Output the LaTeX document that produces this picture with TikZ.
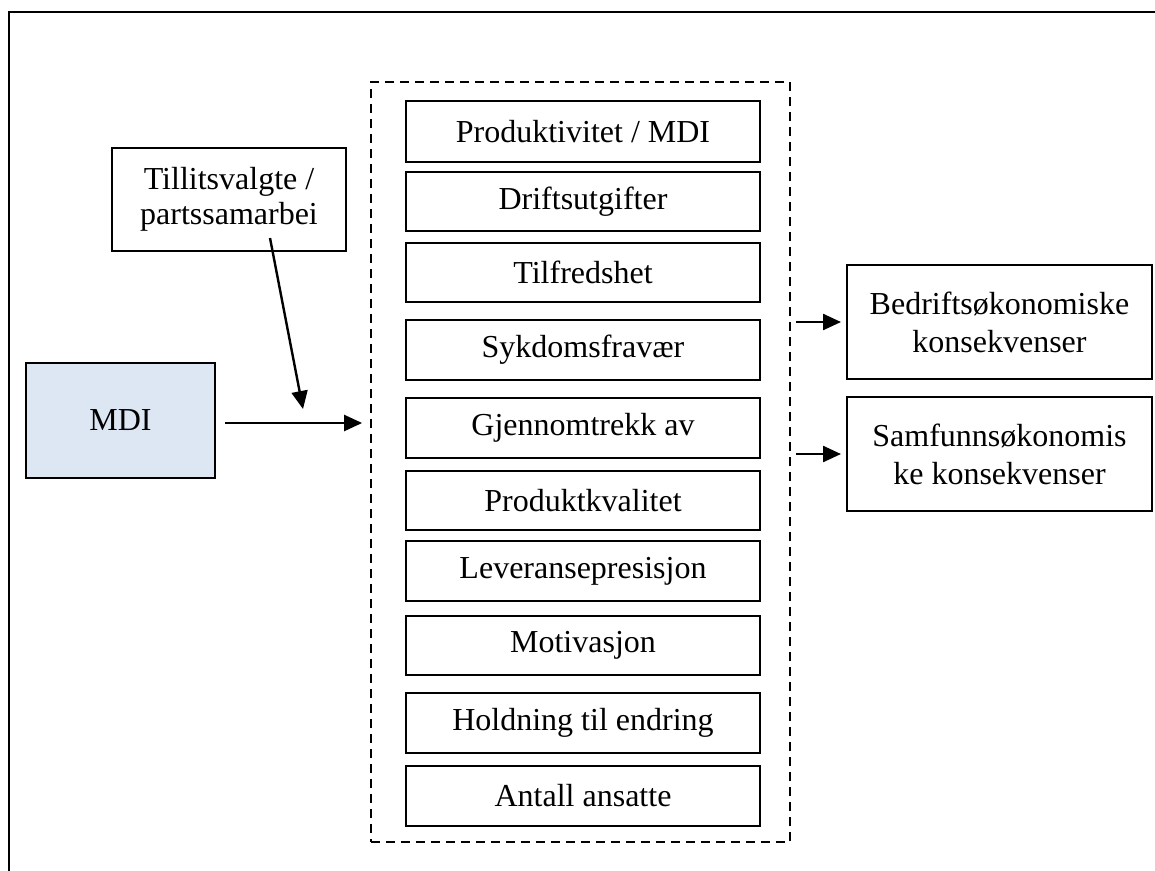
\documentclass[tikz,border=0pt]{standalone}
\usepackage{fontspec}
\setmainfont{Liberation Serif}
\usetikzlibrary{arrows.meta,calc}
\definecolor{mdiblue}{RGB}{221,231,244}
\begin{document}
\begin{tikzpicture}[x=1pt,y=-1pt,
  box/.style={draw=black,line width=2pt,inner sep=0pt,align=center,
    font=\fontsize{32}{37}\selectfont},
  item/.style={box,minimum width=354pt,minimum height=#1},
  side/.style={box,minimum width=305pt,minimum height=114pt},
  conn/.style={line width=2.4pt,-{Triangle[length=18pt,width=16pt]}}]
\useasboundingbox (0,0) rectangle (1155,870);
\clip (0,0) rectangle (1155,870);
% outer frame (top and left edges)
\draw[line width=2.6pt] (9,880) -- (9,12) -- (1170,12);

% grouping frame around the factors
\node[draw,line width=1.8pt,dash pattern=on 9pt off 6pt,
  minimum width=419pt,minimum height=760pt,inner sep=0pt] (grp) at (580.5,462) {};

% factors
\node[item=61pt] (b1) at (583,131.5) {Produktivitet / MDI};
\node[item=59pt] (b2) at (583,201.5) {Driftsutgifter};
\node[item=59pt] (b3) at (583,272.5) {Tilfredshet};
\node[item=60pt] (b4) at (583,350) {Sykdomsfravær};
\node[item=60pt] (b5) at (583,428) {Gjennomtrekk av};
\node[item=59pt] (b6) at (583,500.5) {Produktkvalitet};
\node[item=60pt] (b7) at (583,571) {Leveransepresisjon};
\node[item=59pt] (b8) at (583,645.5) {Motivasjon};
\node[item=60pt] (b9) at (583,723) {Holdning til endring};
\node[item=60pt] (b10) at (583,796) {Antall ansatte};

% inputs
\node[box,fill=mdiblue,minimum width=189pt,minimum height=115pt] (mdi) at (120.5,420.5) {MDI};
\node[box,minimum width=234pt,minimum height=103pt,
  font=\fontsize{32}{35}\selectfont] (tl) at (229,199.5) {Tillitsvalgte /\\partssamarbei};

% consequences
\node[side,font=\fontsize{32}{38}\selectfont] (bk) at (999.5,322) {Bedriftsøkonomiske\\konsekvenser};
\node[side,font=\fontsize{32}{38}\selectfont] (sk) at (999.5,454) {Samfunnsøkonomis\\ke konsekvenser};

% connectors
\coordinate (mdiout) at ($(mdi.east)+(9,2.5)$);
\coordinate (grpin) at (mdiout -| grp.west);
\draw[conn,shorten >=8pt] (mdiout) -- (grpin);
\coordinate (tlout) at ($(tl.south)+(41,-14)$);
\coordinate (tlin) at (303,409);
\draw[conn] (tlout) -- (tlin);
\coordinate (ga) at (grp.east |- bk.west);
\coordinate (gb) at (grp.east |- sk.west);
\draw[conn,shorten <=5pt,shorten >=5pt] (ga) -- (bk.west);
\draw[conn,shorten <=5pt,shorten >=5pt] (gb) -- (sk.west);
\end{tikzpicture}
\end{document}
